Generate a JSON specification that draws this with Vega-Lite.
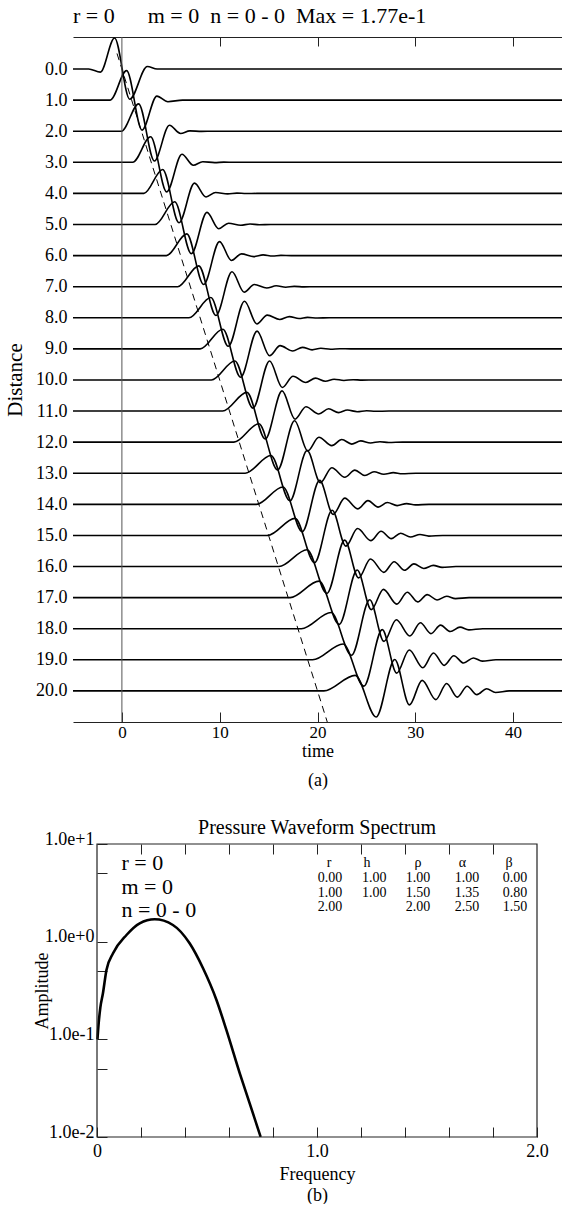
{
 "$schema": "https://vega.github.io/schema/vega-lite/v6.json",
 "padding": {"left": 4, "top": 5, "right": 0, "bottom": 0},
 "background": "white",
 "spacing": 29,
 "config": {
  "font": "Liberation Serif",
  "view": {"stroke": null},
  "axis": {"grid": false, "labelColor": "black", "titleColor": "black", "domainColor": "#222", "tickColor": "#222", "titleFontWeight": "normal", "labelFont": "Liberation Serif", "titleFont": "Liberation Serif", "labelOverlap": false, "labelFlush": false},
  "style": {"guide-label": {"font": "Liberation Serif"}, "guide-title": {"font": "Liberation Serif", "fontWeight": "normal"}},
  "title": {"font": "Liberation Serif", "fontWeight": "normal", "color": "black"},
  "text": {"font": "Liberation Serif"}
 },
 "datasets": {
  "traces": [
   {"d":0,"t":-5,"y":0},{"d":0,"t":-3.4,"y":0},{"d":0,"t":-2.2,"y":0.1},{"d":0,"t":-0.75,"y":-1.0},{"d":0,"t":0.8,"y":0.97},{"d":0,"t":2.6,"y":-0.08},{"d":0,"t":3.6,"y":0},{"d":0,"t":45,"y":0},
   {"d":1,"t":-5,"y":1},{"d":1,"t":-1.2,"y":1},{"d":1,"t":0.48,"y":0.05},{"d":1,"t":2.06,"y":1.964},{"d":1,"t":3.58,"y":0.87},{"d":1,"t":4.7,"y":1.051},{"d":1,"t":6.2,"y":1},{"d":1,"t":45,"y":1},
   {"d":2,"t":-5,"y":2},{"d":2,"t":-0.05,"y":2},{"d":2,"t":1.71,"y":1.12},{"d":2,"t":3.32,"y":2.957},{"d":2,"t":4.86,"y":1.81},{"d":2,"t":6.0,"y":2.072},{"d":2,"t":6.94,"y":1.989},{"d":2,"t":8.16,"y":2.004},{"d":2,"t":9.3,"y":2},{"d":2,"t":45,"y":2},
   {"d":3,"t":-5,"y":3},{"d":3,"t":1.1,"y":3},{"d":3,"t":2.94,"y":2.18},{"d":3,"t":4.58,"y":3.951},{"d":3,"t":6.14,"y":2.74},{"d":3,"t":7.3,"y":3.093},{"d":3,"t":8.26,"y":2.98},{"d":3,"t":9.49,"y":3.009},{"d":3,"t":10.42,"y":2.995},{"d":3,"t":11.5,"y":3},{"d":3,"t":45,"y":3},
   {"d":4,"t":-5,"y":4},{"d":4,"t":2.25,"y":4},{"d":4,"t":4.17,"y":3.23},{"d":4,"t":5.84,"y":4.944},{"d":4,"t":7.42,"y":3.67},{"d":4,"t":8.6,"y":4.114},{"d":4,"t":9.58,"y":3.97},{"d":4,"t":10.82,"y":4.016},{"d":4,"t":11.76,"y":3.99},{"d":4,"t":12.7,"y":4.005},{"d":4,"t":13.8,"y":4},{"d":4,"t":45,"y":4},
   {"d":5,"t":-5,"y":5},{"d":5,"t":3.4,"y":5},{"d":5,"t":5.4,"y":4.27},{"d":5,"t":7.1,"y":5.938},{"d":5,"t":8.7,"y":4.61},{"d":5,"t":9.9,"y":5.135},{"d":5,"t":10.9,"y":4.958},{"d":5,"t":12.15,"y":5.023},{"d":5,"t":13.1,"y":4.985},{"d":5,"t":14.05,"y":5.008},{"d":5,"t":15.2,"y":5},{"d":5,"t":45,"y":5},
   {"d":6,"t":-5,"y":6},{"d":6,"t":4.55,"y":6},{"d":6,"t":6.63,"y":5.3},{"d":6,"t":8.36,"y":6.931},{"d":6,"t":9.98,"y":5.55},{"d":6,"t":11.2,"y":6.156},{"d":6,"t":12.22,"y":5.944},{"d":6,"t":13.48,"y":6.032},{"d":6,"t":14.44,"y":5.978},{"d":6,"t":15.4,"y":6.013},{"d":6,"t":16.26,"y":5.993},{"d":6,"t":17.3,"y":6},{"d":6,"t":45,"y":6},
   {"d":7,"t":-5,"y":7},{"d":7,"t":5.7,"y":7},{"d":7,"t":7.86,"y":6.33},{"d":7,"t":9.62,"y":7.925},{"d":7,"t":11.26,"y":6.52},{"d":7,"t":12.5,"y":7.177},{"d":7,"t":13.54,"y":6.93},{"d":7,"t":14.81,"y":7.042},{"d":7,"t":15.78,"y":6.971},{"d":7,"t":16.75,"y":7.018},{"d":7,"t":17.62,"y":6.99},{"d":7,"t":18.62,"y":7.005},{"d":7,"t":19.8,"y":7},{"d":7,"t":45,"y":7},
   {"d":8,"t":-5,"y":8},{"d":8,"t":6.85,"y":8},{"d":8,"t":9.09,"y":7.35},{"d":8,"t":10.88,"y":8.918},{"d":8,"t":12.54,"y":7.47},{"d":8,"t":13.8,"y":8.198},{"d":8,"t":14.86,"y":7.914},{"d":8,"t":16.14,"y":8.054},{"d":8,"t":17.12,"y":7.962},{"d":8,"t":18.1,"y":8.024},{"d":8,"t":18.98,"y":7.986},{"d":8,"t":19.98,"y":8.008},{"d":8,"t":21.2,"y":8},{"d":8,"t":45,"y":8},
   {"d":9,"t":-5,"y":9},{"d":9,"t":8.0,"y":9},{"d":9,"t":10.32,"y":8.37},{"d":9,"t":12.14,"y":9.912},{"d":9,"t":13.82,"y":8.43},{"d":9,"t":15.1,"y":9.219},{"d":9,"t":16.18,"y":8.897},{"d":9,"t":17.47,"y":9.067},{"d":9,"t":18.46,"y":8.951},{"d":9,"t":19.45,"y":9.032},{"d":9,"t":20.34,"y":8.981},{"d":9,"t":21.34,"y":9.011},{"d":9,"t":22.29,"y":8.994},{"d":9,"t":23.4,"y":9},{"d":9,"t":45,"y":9},
   {"d":10,"t":-5,"y":10},{"d":10,"t":9.15,"y":10},{"d":10,"t":11.55,"y":9.39},{"d":10,"t":13.4,"y":10.905},{"d":10,"t":15.1,"y":9.39},{"d":10,"t":16.4,"y":10.24},{"d":10,"t":17.5,"y":9.88},{"d":10,"t":18.8,"y":10.08},{"d":10,"t":19.8,"y":9.94},{"d":10,"t":20.8,"y":10.041},{"d":10,"t":21.7,"y":9.975},{"d":10,"t":22.7,"y":10.015},{"d":10,"t":23.65,"y":9.991},{"d":10,"t":24.55,"y":10.006},{"d":10,"t":25.95,"y":10},{"d":10,"t":45,"y":10},
   {"d":11,"t":-5,"y":11},{"d":11,"t":10.3,"y":11},{"d":11,"t":12.78,"y":10.4},{"d":11,"t":14.66,"y":11.899},{"d":11,"t":16.38,"y":10.35},{"d":11,"t":17.7,"y":11.261},{"d":11,"t":18.82,"y":10.861},{"d":11,"t":20.13,"y":11.095},{"d":11,"t":21.14,"y":10.927},{"d":11,"t":22.15,"y":11.051},{"d":11,"t":23.06,"y":10.968},{"d":11,"t":24.06,"y":11.02},{"d":11,"t":25.02,"y":10.988},{"d":11,"t":25.92,"y":11.008},{"d":11,"t":27.3,"y":11},{"d":11,"t":45,"y":11},
   {"d":12,"t":-5,"y":12},{"d":12,"t":11.45,"y":12},{"d":12,"t":14.01,"y":11.41},{"d":12,"t":15.92,"y":12.892},{"d":12,"t":17.66,"y":11.31},{"d":12,"t":19.0,"y":12.282},{"d":12,"t":20.14,"y":11.842},{"d":12,"t":21.46,"y":12.112},{"d":12,"t":22.48,"y":11.914},{"d":12,"t":23.5,"y":12.062},{"d":12,"t":24.42,"y":11.96},{"d":12,"t":25.42,"y":12.026},{"d":12,"t":26.38,"y":11.985},{"d":12,"t":27.28,"y":12.011},{"d":12,"t":28.7,"y":12},{"d":12,"t":45,"y":12},
   {"d":13,"t":-5,"y":13},{"d":13,"t":12.6,"y":13},{"d":13,"t":15.24,"y":12.43},{"d":13,"t":17.18,"y":13.886},{"d":13,"t":18.94,"y":12.27},{"d":13,"t":20.3,"y":13.303},{"d":13,"t":21.46,"y":12.822},{"d":13,"t":22.79,"y":13.129},{"d":13,"t":23.82,"y":12.899},{"d":13,"t":24.85,"y":13.074},{"d":13,"t":25.78,"y":12.951},{"d":13,"t":26.78,"y":13.033},{"d":13,"t":27.75,"y":12.981},{"d":13,"t":28.65,"y":13.014},{"d":13,"t":30.05,"y":13},{"d":13,"t":45,"y":13},
   {"d":14,"t":-5,"y":14},{"d":14,"t":13.75,"y":14},{"d":14,"t":16.47,"y":13.44},{"d":14,"t":18.44,"y":14.879},{"d":14,"t":20.22,"y":13.23},{"d":14,"t":21.6,"y":14.324},{"d":14,"t":22.78,"y":13.801},{"d":14,"t":24.12,"y":14.147},{"d":14,"t":25.16,"y":13.882},{"d":14,"t":26.2,"y":14.088},{"d":14,"t":27.14,"y":13.941},{"d":14,"t":28.14,"y":14.041},{"d":14,"t":29.11,"y":13.976},{"d":14,"t":30.01,"y":14.017},{"d":14,"t":31.4,"y":14},{"d":14,"t":45,"y":14},
   {"d":15,"t":-5,"y":15},{"d":15,"t":14.9,"y":15},{"d":15,"t":17.7,"y":14.45},{"d":15,"t":19.7,"y":15.873},{"d":15,"t":21.5,"y":14.19},{"d":15,"t":22.9,"y":15.345},{"d":15,"t":24.1,"y":14.779},{"d":15,"t":25.45,"y":15.167},{"d":15,"t":26.5,"y":14.865},{"d":15,"t":27.55,"y":15.103},{"d":15,"t":28.5,"y":14.929},{"d":15,"t":29.5,"y":15.051},{"d":15,"t":30.48,"y":14.971},{"d":15,"t":31.38,"y":15.021},{"d":15,"t":32.8,"y":15},{"d":15,"t":45,"y":15},
   {"d":16,"t":-5,"y":16},{"d":16,"t":16.05,"y":16},{"d":16,"t":18.93,"y":15.46},{"d":16,"t":20.96,"y":16.866},{"d":16,"t":22.78,"y":15.15},{"d":16,"t":24.2,"y":16.366},{"d":16,"t":25.42,"y":15.757},{"d":16,"t":26.78,"y":16.187},{"d":16,"t":27.84,"y":15.846},{"d":16,"t":28.9,"y":16.12},{"d":16,"t":29.86,"y":15.916},{"d":16,"t":30.86,"y":16.061},{"d":16,"t":31.84,"y":15.964},{"d":16,"t":32.74,"y":16.026},{"d":16,"t":34.15,"y":16},{"d":16,"t":45,"y":16},
   {"d":17,"t":-5,"y":17},{"d":17,"t":17.2,"y":17},{"d":17,"t":20.16,"y":16.47},{"d":17,"t":22.22,"y":17.86},{"d":17,"t":24.06,"y":16.11},{"d":17,"t":25.5,"y":17.387},{"d":17,"t":26.74,"y":16.734},{"d":17,"t":28.11,"y":17.209},{"d":17,"t":29.18,"y":16.827},{"d":17,"t":30.25,"y":17.138},{"d":17,"t":31.22,"y":16.902},{"d":17,"t":32.22,"y":17.074},{"d":17,"t":33.21,"y":16.957},{"d":17,"t":34.11,"y":17.031},{"d":17,"t":35.5,"y":17},{"d":17,"t":45,"y":17},
   {"d":18,"t":-5,"y":18},{"d":18,"t":18.35,"y":18},{"d":18,"t":21.39,"y":17.48},{"d":18,"t":23.48,"y":18.853},{"d":18,"t":25.34,"y":17.07},{"d":18,"t":26.8,"y":18.408},{"d":18,"t":28.06,"y":17.71},{"d":18,"t":29.44,"y":18.232},{"d":18,"t":30.52,"y":17.806},{"d":18,"t":31.6,"y":18.157},{"d":18,"t":32.58,"y":17.886},{"d":18,"t":33.58,"y":18.088},{"d":18,"t":34.57,"y":17.949},{"d":18,"t":35.47,"y":18.037},{"d":18,"t":36.9,"y":18},{"d":18,"t":45,"y":18},
   {"d":19,"t":-5,"y":19},{"d":19,"t":19.5,"y":19},{"d":19,"t":22.62,"y":18.49},{"d":19,"t":24.74,"y":19.847},{"d":19,"t":26.62,"y":18.03},{"d":19,"t":28.1,"y":19.429},{"d":19,"t":29.38,"y":18.685},{"d":19,"t":30.77,"y":19.255},{"d":19,"t":31.86,"y":18.783},{"d":19,"t":32.95,"y":19.178},{"d":19,"t":33.94,"y":18.869},{"d":19,"t":34.94,"y":19.103},{"d":19,"t":35.94,"y":18.94},{"d":19,"t":36.84,"y":19.043},{"d":19,"t":38.25,"y":19},{"d":19,"t":45,"y":19},
   {"d":20,"t":-5,"y":20},{"d":20,"t":20.65,"y":20},{"d":20,"t":23.85,"y":19.5},{"d":20,"t":26.0,"y":20.84},{"d":20,"t":27.9,"y":18.99},{"d":20,"t":29.4,"y":20.45},{"d":20,"t":30.7,"y":19.66},{"d":20,"t":32.1,"y":20.28},{"d":20,"t":33.2,"y":19.76},{"d":20,"t":34.3,"y":20.2},{"d":20,"t":35.3,"y":19.85},{"d":20,"t":36.3,"y":20.12},{"d":20,"t":37.3,"y":19.93},{"d":20,"t":38.2,"y":20.05},{"d":20,"t":39.6,"y":20},{"d":20,"t":45,"y":20}
  ],
  "dash": [{"t": -0.5, "y": -0.5}, {"t": 21, "y": 21}],
  "zero": [{"t": 0}],
  "header": [{"t": -5, "y": -1.7, "label": "r = 0\u00a0\u00a0\u00a0\u00a0\u00a0\u00a0m = 0\u00a0\u00a0n = 0 - 0\u00a0\u00a0Max =\u00a01.77e-1"}],
  "spec": [
   {"f":0.002,"a":0.1},{"f":0.008,"a":0.15},{"f":0.015,"a":0.21},{"f":0.027,"a":0.296},{"f":0.043,"a":0.513},{"f":0.073,"a":0.76},{"f":0.134,"a":1.17},{"f":0.194,"a":1.542},{"f":0.262,"a":1.694},{"f":0.345,"a":1.482},{"f":0.421,"a":0.962},{"f":0.482,"a":0.534},{"f":0.543,"a":0.253},{"f":0.588,"a":0.125},{"f":0.649,"a":0.0449},{"f":0.694,"a":0.0221},{"f":0.744,"a":0.01}
  ],
  "notes": [
   {"f":0.111,"a":6.433,"label":"r = 0"},{"f":0.111,"a":3.654,"label":"m = 0"},{"f":0.111,"a":2.11,"label":"n = 0 - 0"}
  ],
  "table": [
   {"f":1.0545,"a":6.345,"label":"r"},{"f":1.227,"a":6.345,"label":"h"},{"f":1.459,"a":6.345,"label":"ρ"},{"f":1.661,"a":6.345,"label":"α"},{"f":1.873,"a":6.345,"label":"β"},
   {"f":1.059,"a":4.455,"label":"0.00"},{"f":1.26,"a":4.455,"label":"1.00"},{"f":1.459,"a":4.455,"label":"1.00"},{"f":1.682,"a":4.455,"label":"1.00"},{"f":1.9,"a":4.455,"label":"0.00"},
   {"f":1.059,"a":3.172,"label":"1.00"},{"f":1.26,"a":3.172,"label":"1.00"},{"f":1.459,"a":3.172,"label":"1.50"},{"f":1.682,"a":3.172,"label":"1.35"},{"f":1.9,"a":3.172,"label":"0.80"},
   {"f":1.059,"a":2.248,"label":"2.00"},{"f":1.459,"a":2.248,"label":"2.00"},{"f":1.682,"a":2.248,"label":"2.50"},{"f":1.9,"a":2.248,"label":"1.50"}
  ]
 },
 "vconcat": [
  {
   "width": 489, "height": 685,
   "layer": [
    {
     "data": {"name": "traces"},
     "mark": {"type": "line", "interpolate": "monotone", "color": "black", "strokeWidth": 1.6, "clip": true},
     "encoding": {
      "x": {"field": "t", "type": "quantitative", "scale": {"domain": [-5, 45], "nice": false, "zero": false},
            "axis": {"orient": "bottom", "values": [0, 10, 20, 30, 40], "tickSize": -10, "labelPadding": 12, "labelFont": "Liberation Serif", "labelFontSize": 17, "domainWidth": 1.2, "title": ["time", "(a)"], "titleFont": "Liberation Serif", "titleFontSize": 18, "titleLineHeight": 29, "titlePadding": 2}},
      "y": {"field": "y", "type": "quantitative", "scale": {"domain": [-1.03, 21], "reverse": true, "nice": false, "zero": false},
            "axis": {"values": [0,1,2,3,4,5,6,7,8,9,10,11,12,13,14,15,16,17,18,19,20], "format": ".1f", "ticks": false, "domain": false, "labelPadding": 6, "labelFont": "Liberation Serif", "labelFontSize": 18, "title": "Distance", "titleFont": "Liberation Serif", "titleFontSize": 21, "titlePadding": 10}},
      "detail": {"field": "d", "type": "nominal"}
     }
    },
    {
     "data": {"name": "dash"},
     "mark": {"type": "line", "color": "black", "strokeWidth": 1, "strokeDash": [7, 5], "clip": true},
     "encoding": {
      "x": {"field": "t", "type": "quantitative", "axis": null},
      "y": {"field": "y", "type": "quantitative", "axis": null}
     }
    },
    {
     "data": {"name": "zero"},
     "mark": {"type": "rule", "color": "#555", "strokeWidth": 1},
     "encoding": {
      "x": {"field": "t", "type": "quantitative", "axis": {"orient": "top", "values": [10, 20, 30, 40], "tickSize": -9, "labels": false, "title": null, "domainWidth": 1.2}}
     }
    },
    {
     "data": {"name": "header"},
     "mark": {"type": "text", "align": "left", "baseline": "middle", "font": "Liberation Serif", "fontSize": 22, "color": "black", "clip": false},
     "encoding": {
      "x": {"field": "t", "type": "quantitative", "axis": null},
      "y": {"field": "y", "type": "quantitative", "axis": null},
      "text": {"field": "label"}
     }
    }
   ],
   "resolve": {"axis": {"x": "independent", "y": "independent"}}
  },
  {
   "width": 464, "height": 293,
   "title": {"text": "Pressure Waveform Spectrum", "font": "Liberation Serif", "fontSize": 20, "anchor": "middle", "frame": "group", "dx": 12, "offset": -8},
   "layer": [
    {
     "data": {"name": "spec"},
     "mark": {"type": "line", "interpolate": "monotone", "color": "black", "strokeWidth": 2.6, "clip": true},
     "encoding": {
      "x": {"field": "f", "type": "quantitative", "scale": {"domain": [-0.1091, 2], "nice": false, "zero": false},
            "axis": {"orient": "bottom", "values": [0, 0.2, 0.4, 0.6, 0.8, 1, 1.2, 1.4, 1.6, 1.8, 2], "labelExpr": "datum.value == 0 ? '0' : datum.value == 1 ? '1.0' : datum.value == 2 ? '2.0' : ''", "tickSize": -10, "domain": false, "labelPadding": 15, "labelFont": "Liberation Serif", "labelFontSize": 18, "title": ["Frequency", "(b)"], "titleFont": "Liberation Serif", "titleFontSize": 18, "titleLineHeight": 21, "titlePadding": 5, "titleX": 244}},
      "y": {"field": "a", "type": "quantitative", "scale": {"type": "log", "domain": [0.01, 10], "nice": false},
            "axis": {"orient": "left", "offset": -24, "values": [0.01, 0.05, 0.1, 0.5, 1, 5, 10], "labelExpr": "datum.value == 10 ? '1.0e+1' : datum.value == 1 ? '1.0e+0' : datum.value == 0.1 ? '1.0e-1' : datum.value == 0.01 ? '1.0e-2' : ''", "tickSize": -10, "domain": false, "labelPadding": 13, "labelFont": "Liberation Serif", "labelFontSize": 18, "labelBaseline": "alphabetic", "title": "Amplitude", "titleFont": "Liberation Serif", "titleFontSize": 18, "titlePadding": -7}}
     }
    },
    {
     "data": {"values": [{}]},
     "mark": {"type": "rect", "filled": false, "stroke": "#222", "strokeWidth": 1.2},
     "encoding": {
      "x": {"datum": 0, "type": "quantitative", "axis": null},
      "x2": {"datum": 2},
      "y": {"datum": 0.01, "type": "quantitative", "axis": null},
      "y2": {"datum": 10}
     }
    },
    {
     "data": {"name": "notes"},
     "mark": {"type": "text", "align": "left", "baseline": "middle", "font": "Liberation Serif", "fontSize": 22, "color": "black"},
     "encoding": {
      "x": {"field": "f", "type": "quantitative", "axis": {"orient": "top", "values": [0.2, 0.4, 0.6, 0.8, 1, 1.2, 1.4, 1.6, 1.8], "tickSize": -10, "labels": false, "domain": false, "title": null}},
      "y": {"field": "a", "type": "quantitative", "axis": null},
      "text": {"field": "label"}
     }
    },
    {
     "data": {"name": "table"},
     "mark": {"type": "text", "align": "center", "baseline": "middle", "font": "Liberation Serif", "fontSize": 14, "color": "black"},
     "encoding": {
      "x": {"field": "f", "type": "quantitative", "axis": null},
      "y": {"field": "a", "type": "quantitative", "axis": null},
      "text": {"field": "label"}
     }
    }
   ],
   "resolve": {"axis": {"x": "independent", "y": "independent"}}
  }
 ]
}
